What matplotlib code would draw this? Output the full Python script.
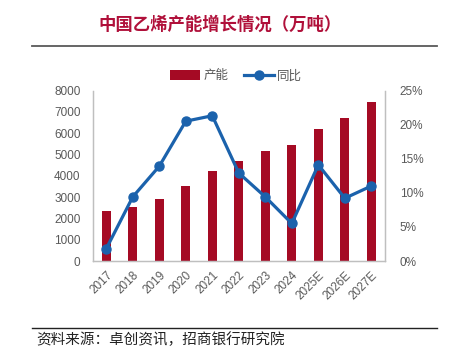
import numpy as np
import matplotlib.pyplot as plt
from matplotlib.ticker import FuncFormatter

plt.rcParams['font.family'] = ['Noto Sans CJK SC', 'DejaVu Sans']

years = ['2017', '2018', '2019', '2020', '2021', '2022', '2023', '2024', '2025E', '2026E', '2027E']
capacity = [2350, 2550, 2900, 3500, 4200, 4700, 5170, 5450, 6200, 6700, 7450]
yoy = [1.8, 9.4, 13.9, 20.5, 21.3, 12.9, 9.4, 5.5, 14.1, 9.2, 11.0]

bar_color = '#A50A24'
line_color = '#1B62AC'
grey = '#595959'
spine_color = '#BFBFBF'

fig = plt.figure(figsize=(4.53, 3.60), dpi=100)
ax = fig.add_axes([0.2053, 0.275, 0.6437, 0.4736])
x = np.arange(len(years))

ax.bar(x, capacity, width=0.34, color=bar_color, label='产能', zorder=2)
ax.set_ylim(0, 8000)
ax.set_xlim(-0.5, len(years) - 0.5)
ax.set_yticks(np.arange(0, 8001, 1000))

ax2 = ax.twinx()
ax2.plot(x, yoy, color=line_color, lw=2.3, marker='o', markersize=6.5, label='同比', zorder=3)
ax2.set_ylim(0, 25)
ax2.set_yticks(np.arange(0, 26, 5))
ax2.yaxis.set_major_formatter(FuncFormatter(lambda v, p: '%d%%' % v))

ax.set_xticks(x)
ax.set_xticklabels(years, rotation=45, ha='right', rotation_mode='anchor')

for a in (ax, ax2):
    a.spines['top'].set_visible(False)
    for s in ('left', 'right', 'bottom'):
        a.spines[s].set_color(spine_color)
        a.spines[s].set_linewidth(0.9)
    a.tick_params(length=0, labelsize=8.5, colors=grey)
ax.tick_params(axis='y', pad=9)
ax.tick_params(axis='x', pad=6)
ax2.tick_params(axis='y', pad=11)

for lab in ax.get_xticklabels() + ax.get_yticklabels() + ax2.get_yticklabels():
    lab.set_family(['Liberation Sans', 'DejaVu Sans'])

# legend
h1, l1 = ax.get_legend_handles_labels()
h2, l2 = ax2.get_legend_handles_labels()
leg = fig.legend(h1 + h2, l1 + l2, loc='center', bbox_to_anchor=(236 / 453, 1 - 76 / 360),
                 ncol=2, frameon=False, fontsize=9, handlelength=2.4, handleheight=0.8,
                 columnspacing=1.2, handletextpad=0.3)
for t in leg.get_texts():
    t.set_color(grey)

# title and rules
fig.text(220 / 453, 1 - 25 / 360, '中国乙烯产能增长情况（万吨）', ha='center', va='center',
         fontsize=12.5, fontweight='bold', color='#B0103A')
fig.add_artist(plt.Line2D([32 / 453, 437 / 453], [1 - 46 / 360, 1 - 46 / 360], color='#595959', lw=1.3))
fig.add_artist(plt.Line2D([32 / 453, 437 / 453], [1 - 328 / 360, 1 - 328 / 360], color='#222222', lw=1.0))
fig.text(36 / 453, 1 - 340 / 360, '资料来源：卓创资讯，招商银行研究院', ha='left', va='center',
         fontsize=10.5, color='#222222')

fig.savefig('out.png', dpi=100)
